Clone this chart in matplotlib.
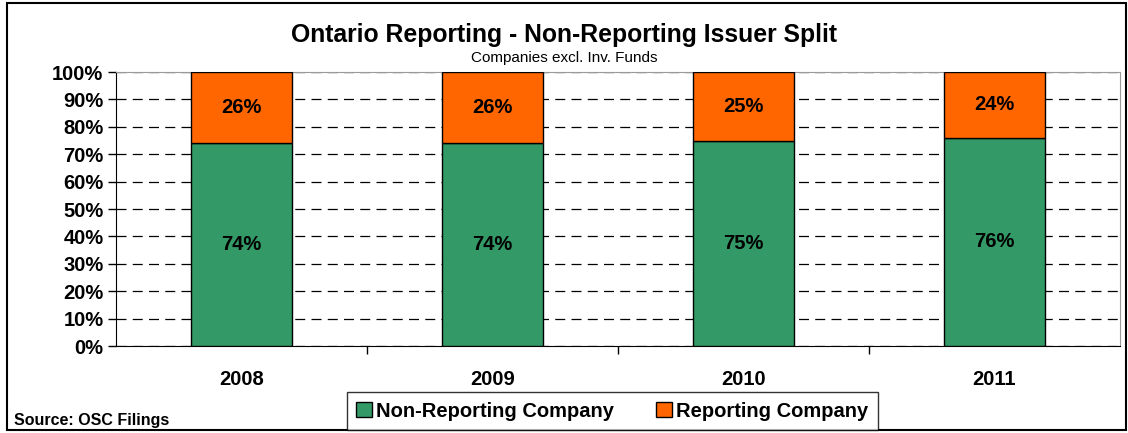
import matplotlib
matplotlib.use("Agg")
import matplotlib.pyplot as plt
from matplotlib.patches import Rectangle
import numpy as np

plt.rcParams['font.family'] = ['Liberation Sans', 'DejaVu Sans']
plt.rcParams['font.weight'] = 'bold'

# Shares by year, in percent
years = ['2008', '2009', '2010', '2011']
non_reporting = [74, 74, 75, 76]
reporting = [26, 26, 25, 24]

green = '#339966'
orange = '#FF6600'

fig = plt.figure(figsize=(11.28, 4.33), dpi=100)
ax = fig.add_axes([0.1028, 0.2009, 0.8901, 0.6328])

x = np.arange(len(years))
bar_w = 0.4
b1 = ax.bar(x, non_reporting, bar_w, color=green, edgecolor='black', linewidth=1,
            label='Non-Reporting Company', zorder=3)
b2 = ax.bar(x, reporting, bar_w, bottom=non_reporting, color=orange, edgecolor='black',
            linewidth=1, label='Reporting Company', zorder=3)

for xi, v in zip(x, non_reporting):
    ax.text(xi, v / 2, f'{v}%', ha='center', va='center', fontsize=14.5, fontweight='bold', zorder=4)
for xi, v, b in zip(x, reporting, non_reporting):
    ax.text(xi, b + v / 2, f'{v}%', ha='center', va='center', fontsize=14.5, fontweight='bold', zorder=4)

ax.set_xlim(-0.5, len(years) - 0.5)
ax.set_ylim(0, 100)
ax.set_yticks(range(0, 101, 10))
ax.set_yticklabels([f'{t}%' for t in range(0, 101, 10)], fontsize=14.5, fontweight='bold')
ax.yaxis.grid(True, color='black', linestyle=(0, (8, 5)), linewidth=0.9, zorder=1)
ax.tick_params(axis='y', length=6, width=1, pad=3, direction='out')

ax.set_xticks(x)
ax.set_xticklabels(years, fontsize=14.5, fontweight='bold')
ax.set_xticks(np.arange(0.5, len(years) - 0.5, 1), minor=True)
ax.tick_params(axis='x', which='major', length=0, pad=17)
ax.tick_params(axis='x', which='minor', length=6, width=1, direction='out')

ax.spines['left'].set_color('black')
ax.spines['bottom'].set_color('black')
ax.spines['top'].set_color('#9a9a9a')
ax.spines['right'].set_color('#9a9a9a')

fig.text(0.5, 0.919, 'Ontario Reporting - Non-Reporting Issuer Split', ha='center', va='center',
         fontsize=17.8, fontweight='bold')
fig.text(0.5, 0.866, 'Companies excl. Inv. Funds', ha='center', va='center',
         fontsize=11, fontweight='normal')
fig.text(0.012, 0.028, 'Source: OSC Filings', ha='left', va='center', fontsize=11.5, fontweight='bold')

leg = fig.legend(handles=[b1, b2], loc='center', bbox_to_anchor=(0.5426, 0.0508), ncol=2,
                 frameon=True, fancybox=False, edgecolor='black',
                 handlelength=0.8, handleheight=0.8, handletextpad=0.2, columnspacing=2.1,
                 borderpad=0.45, prop={'weight': 'bold', 'size': 14.5})
leg.get_frame().set_linewidth(1)

# outer frame
fig.patches.append(Rectangle((0.006, 0.006), 0.992, 0.986, transform=fig.transFigure,
                             fill=False, edgecolor='black', linewidth=1.5))

fig.savefig('out.png', dpi=100)
